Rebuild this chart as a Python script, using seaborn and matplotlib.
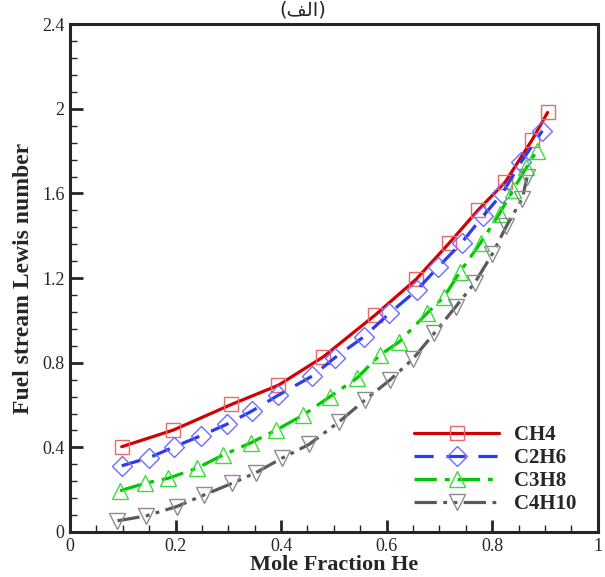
import matplotlib
matplotlib.use("Agg")
import matplotlib.pyplot as plt
import seaborn as sns
import pandas as pd
from matplotlib.ticker import MultipleLocator

# data
x_ch4 = [0.098, 0.196, 0.306, 0.395, 0.480, 0.578, 0.656, 0.718, 0.773, 0.825, 0.876, 0.905]
y_ch4 = [0.403, 0.482, 0.603, 0.694, 0.828, 1.025, 1.195, 1.364, 1.521, 1.655, 1.855, 1.983]

x_c2h6 = [0.098, 0.150, 0.198, 0.248, 0.297, 0.345, 0.395, 0.459, 0.502, 0.557,
          0.605, 0.657, 0.698, 0.742, 0.783, 0.819, 0.855, 0.895]
y_c2h6 = [0.313, 0.351, 0.403, 0.455, 0.509, 0.572, 0.647, 0.737, 0.824, 0.923,
          1.033, 1.143, 1.253, 1.367, 1.494, 1.600, 1.749, 1.896]

x_c3h8 = [0.095, 0.142, 0.186, 0.240, 0.290, 0.343, 0.391, 0.442, 0.492, 0.543,
          0.587, 0.624, 0.676, 0.709, 0.739, 0.778, 0.814, 0.839, 0.865, 0.884]
y_c3h8 = [0.195, 0.230, 0.254, 0.301, 0.364, 0.422, 0.482, 0.553, 0.639, 0.726,
          0.836, 0.899, 1.033, 1.112, 1.230, 1.367, 1.505, 1.615, 1.723, 1.800]

x_c4h10 = [0.090, 0.144, 0.202, 0.254, 0.307, 0.352, 0.401, 0.453, 0.510, 0.559,
           0.606, 0.649, 0.690, 0.731, 0.767, 0.800, 0.827, 0.857, 0.866]
y_c4h10 = [0.053, 0.076, 0.120, 0.175, 0.230, 0.280, 0.348, 0.414, 0.521, 0.624,
           0.718, 0.816, 0.939, 1.065, 1.178, 1.313, 1.446, 1.576, 1.676]

names = ["CH4", "C2H6", "C3H8", "C4H10"]
xs = [x_ch4, x_c2h6, x_c3h8, x_c4h10]
ys = [y_ch4, y_c2h6, y_c3h8, y_c4h10]

line_colors = ["#d40000", "#2a3cf0", "#00c800", "#5a5a5a"]
marker_colors = ["#e86a6a", "#6c6cff", "#3cdc3c", "#8c8c8c"]
markers = ["s", "D", "^", "v"]
msizes = [10, 10, 11, 11]
styles = ["-", (0, (6, 4)), (0, (7, 2.5, 1.5, 2.5)), (0, (7, 2, 1.2, 2, 1.2, 2))]

sns.set_style("ticks")
plt.rcParams["font.family"] = ["Liberation Serif", "DejaVu Sans"]

fig = plt.figure(figsize=(6.05, 5.77), dpi=100)
ax = fig.add_axes([0.1157, 0.078, 0.8723, 0.880])

for i in range(4):
    df = pd.DataFrame({"x": xs[i], "y": ys[i]})
    sns.lineplot(data=df, x="x", y="y", ax=ax, sort=False, color=line_colors[i],
                 linestyle=styles[i], linewidth=2.3, marker=markers[i],
                 markersize=msizes[i], markerfacecolor="none",
                 markeredgecolor=marker_colors[i], markeredgewidth=1.0,
                 label=names[i])

ax.set_xlim(0, 1)
ax.set_ylim(0, 2.4)
ax.xaxis.set_minor_locator(MultipleLocator(0.05))
ax.yaxis.set_minor_locator(MultipleLocator(0.08))
ax.set_xticks([0, 0.2, 0.4, 0.6, 0.8, 1])
ax.set_xticklabels(["0", "0.2", "0.4", "0.6", "0.8", "1"])
ax.set_yticks([0, 0.4, 0.8, 1.2, 1.6, 2, 2.4])
ax.set_yticklabels(["0", "0.4", "0.8", "1.2", "1.6", "2", "2.4"])
ax.tick_params(which="major", direction="in", length=9, width=2, labelsize=13, pad=4)
ax.tick_params(which="minor", direction="in", length=5, width=1)
for s in ax.spines.values():
    s.set_linewidth(2.2)
    s.set_visible(True)

ax.set_xlabel("Mole Fraction He", fontsize=16, fontweight="bold", labelpad=0)
ax.set_ylabel("Fuel stream Lewis number", fontsize=17, fontweight="bold", labelpad=6)

ax.legend(loc="lower right", bbox_to_anchor=(0.995, -0.002), frameon=False,
          handlelength=4.1, prop={"weight": "bold", "size": 15},
          labelspacing=0.15, handletextpad=0.7)

fig.text(0.5, 1.0, "(\ufed2\ufedf\ufe8d)", ha="center", va="top",
         fontsize=14, family=["DejaVu Sans"])

fig.savefig("out.png", dpi=100)
